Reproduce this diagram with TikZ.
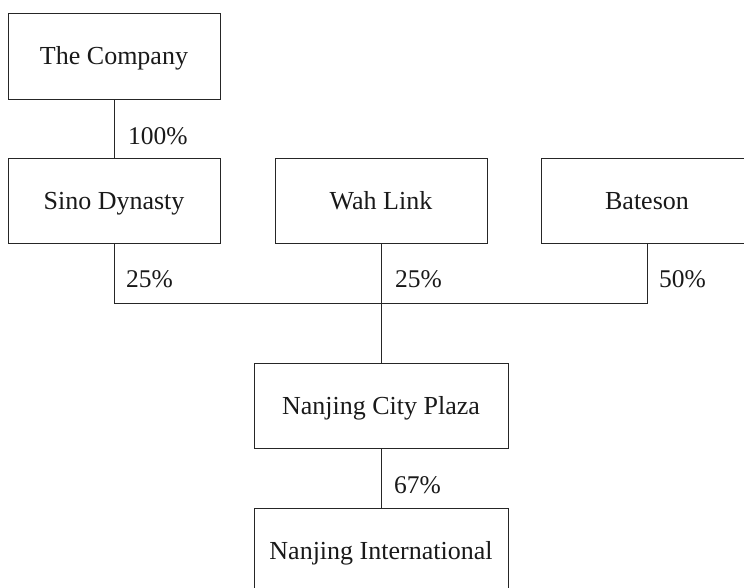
\documentclass[tikz,border=0pt]{standalone}
\usepackage{fontspec}
\setmainfont{Liberation Serif}
\begin{document}
\begin{tikzpicture}[x=1pt,y=-1pt,
  entity/.style={draw=black!85, line width=0.9pt, minimum width=212pt, minimum height=85pt, inner sep=0pt,
    text height=18pt, text depth=0pt,
    font=\fontsize{26}{30}\selectfont, text=black!90},
  wide/.style={entity, minimum width=254pt},
  pct/.style={anchor=base west, inner sep=0pt, font=\fontsize{25.5}{30}\selectfont, text=black!90},
  link/.style={draw=black!85, line width=0.9pt}]
\useasboundingbox (0,0) rectangle (744,588);
\clip (0,0) rectangle (744,588);
\node[entity, minimum height=86pt] (company) at (114,56) {The Company};
\node[entity] (sino) at (114,200.5) {Sino Dynasty};
\node[entity] (wah) at (381,200.5) {Wah Link};
\node[entity] (bateson) at (647,200.5) {Bateson};
\node[wide] (plaza) at (381,405.5) {Nanjing City Plaza};
\node[wide] (intl) at (381,550.5) {Nanjing International};
\coordinate (j) at (381,303);
\draw[link] (company.south) -- (sino.north);
\draw[link] (sino.south) |- (j);
\draw[link] (bateson.south) |- (j);
\draw[link] (wah.south) -- (plaza.north);
\draw[link] (plaza.south) -- (intl.north);
\node[pct] (p1) at (128,145) {100\%};
\node[pct] (p2) at (126,287) {25\%};
\node[pct] (p3) at (395,287) {25\%};
\node[pct] (p4) at (659,287) {50\%};
\node[pct] (p5) at (394,493) {67\%};
\end{tikzpicture}
\end{document}
